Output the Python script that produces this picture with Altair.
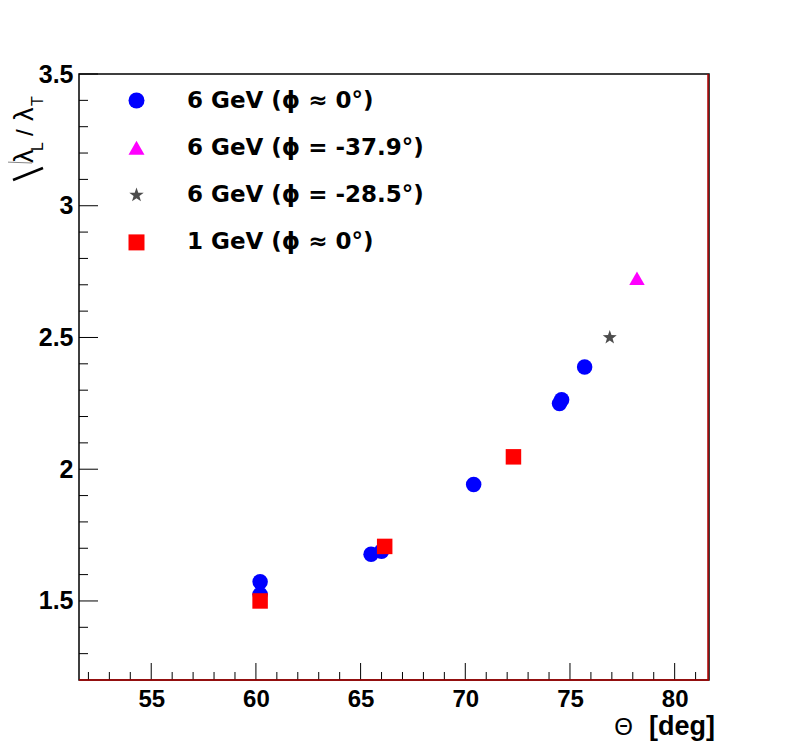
import altair as alt
import pandas as pd

# ---------------- data ----------------
series_labels = ["6 GeV (ϕ ≈ 0°)", "6 GeV (ϕ = -37.9°)", "6 GeV (ϕ = -28.5°)", "1 GeV (ϕ ≈ 0°)"]
series_colors = ["#0000ff", "#ff00ff", "#4d4d4d", "#ff0000"]

theta_6gev_phi0 = [60.2, 60.2, 65.5, 66.0, 70.4, 74.5, 74.6, 75.7]
ratio_6gev_phi0 = [1.573, 1.525, 1.677, 1.689, 1.942, 2.249, 2.264, 2.388]

theta_6gev_phi379 = [78.2]
ratio_6gev_phi379 = [2.725]

theta_6gev_phi285 = [76.9]
ratio_6gev_phi285 = [2.50]

theta_1gev_phi0 = [60.2, 66.15, 72.3]
ratio_1gev_phi0 = [1.50, 1.707, 2.047]

x_major_ticks = [55, 60, 65, 70, 75, 80]
x_minor_ticks = [52, 53, 54, 56, 57, 58, 59, 61, 62, 63, 64, 66, 67, 68, 69,
                 71, 72, 73, 74, 76, 77, 78, 79, 81]
y_major_ticks = [1.5, 2.0, 2.5, 3.0, 3.5]
y_minor_ticks = [1.3, 1.4, 1.6, 1.7, 1.8, 1.9, 2.1, 2.2, 2.3, 2.4,
                 2.6, 2.7, 2.8, 2.9, 3.1, 3.2, 3.3, 3.4]

# ---------------- tables ----------------
rows = []
for lab, xs_, ys_ in [
    (series_labels[0], theta_6gev_phi0, ratio_6gev_phi0),
    (series_labels[1], theta_6gev_phi379, ratio_6gev_phi379),
    (series_labels[2], theta_6gev_phi285, ratio_6gev_phi285),
    (series_labels[3], theta_1gev_phi0, ratio_1gev_phi0),
]:
    for a, b in zip(xs_, ys_):
        rows.append({"theta": a, "ratio": b, "series": lab})
df = pd.DataFrame(rows)

df_xmaj = pd.DataFrame({"theta": x_major_ticks})
df_xmin = pd.DataFrame({"theta": x_minor_ticks})
df_ymaj = pd.DataFrame({"ratio": y_major_ticks})
df_ymin = pd.DataFrame({"ratio": y_minor_ticks})
one = pd.DataFrame({"k": [0]})

W, H = 630, 606
xscale = alt.Scale(domain=[51.55, 81.64], nice=False, zero=False)
yscale = alt.Scale(domain=[1.2, 3.5], nice=False, zero=False)

xaxis = alt.Axis(values=x_major_ticks, title=None, grid=False, domain=False, ticks=False,
                 labelFont="Liberation Sans", labelFontSize=24, labelFontWeight="bold",
                 labelColor="black", labelPadding=7, labelFlush=False, labelAngle=0)
yaxis = alt.Axis(values=y_major_ticks, title=None, grid=False, domain=False, ticks=False,
                 labelFont="Liberation Sans", labelFontSize=25, labelFontWeight="bold",
                 labelColor="black", labelPadding=6, labelFlush=False, format="~g")

star_path = ("M0,-0.95L0.2234,-0.3074L0.9035,-0.2936L0.3614,0.1174L0.5584,0.7686"
             "L0,0.38L-0.5584,0.7686L-0.3614,0.1174L-0.9035,-0.2936L-0.2234,-0.3074Z")
shapes = ["circle", "triangle-up", star_path, "square"]

legend = alt.Legend(title=None, orient="none", legendX=46, legendY=15, padding=0,
                    symbolSize=256, symbolStrokeWidth=0, labelFont="DejaVu Sans",
                    labelFontSize=23, labelFontWeight="bold", labelColor="black",
                    labelOffset=39, rowPadding=23.3, labelLimit=500)

X = lambda: alt.X("theta:Q", scale=xscale, axis=xaxis)
Y = lambda: alt.Y("ratio:Q", scale=yscale, axis=yaxis)

points = alt.Chart(df).mark_point(filled=True, size=240, opacity=1).encode(
    x=X(), y=Y(),
    color=alt.Color("series:N", scale=alt.Scale(domain=series_labels, range=series_colors), legend=legend),
    shape=alt.Shape("series:N", scale=alt.Scale(domain=series_labels, range=shapes), legend=legend),
)

xmaj = alt.Chart(df_xmaj).mark_rule(color="black", strokeWidth=1).encode(
    x=X(), y=alt.value(H), y2=alt.value(H - 17))
xmin = alt.Chart(df_xmin).mark_rule(color="black", strokeWidth=1).encode(
    x=X(), y=alt.value(H), y2=alt.value(H - 8))
ymaj = alt.Chart(df_ymaj).mark_rule(color="black", strokeWidth=1).encode(
    y=Y(), x=alt.value(0), x2=alt.value(19))
ymin = alt.Chart(df_ymin).mark_rule(color="black", strokeWidth=1).encode(
    y=Y(), x=alt.value(0), x2=alt.value(9))

red_bottom = alt.Chart(one).mark_rule(color="#b00000", strokeWidth=1.5).encode(
    x=alt.value(0), x2=alt.value(W), y=alt.value(H))
red_right = alt.Chart(one).mark_rule(color="#b00000", strokeWidth=1.5).encode(
    x=alt.value(W - 1), y=alt.value(0), y2=alt.value(H))


def txt(s, x, y, size, weight="normal", angle=0, align="left", font="Liberation Sans"):
    kw = dict(text=s, align=align, baseline="alphabetic", font=font, fontSize=size,
              fontWeight=weight, color="black")
    if angle:
        kw["angle"] = angle
    return alt.Chart(one).mark_text(**kw).encode(x=alt.value(x), y=alt.value(y))


def seg(x1, y1, x2, y2, color, w):
    return alt.Chart(one).mark_rule(color=color, strokeWidth=w).encode(
        x=alt.value(x1), y=alt.value(y1), x2=alt.value(x2), y2=alt.value(y2))


# y title: sqrt(lambda_L / lambda_T), rotated
ytitle = [
    seg(-75, 16, -75, 88, "#888888", 1),
    seg(-75, 88, -47, 89, "#888888", 1),
    seg(-36, 94, -66, 106, "black", 2.5),
    txt("λ", -46, 89, 27, angle=270),
    txt("L", -36, 77, 16, angle=270),
    txt("/", -46, 62, 24, angle=270),
    txt("λ", -46, 47, 27, angle=270),
    txt("T", -36, 32, 16, angle=270),
]

# x title
xtitle = [
    txt("[deg]", 636, 661, 27, weight="bold", align="right"),
    txt("Θ", 554, 661, 24, align="right"),
]

chart = alt.layer(
    xmin, xmaj, ymin, ymaj, red_bottom, red_right, points, *ytitle, *xtitle
).properties(
    width=W, height=H,
    autosize=alt.AutoSizeParams(type="none"),
    padding={"left": 71, "top": 66, "right": 71, "bottom": 68},
    background="white",
).configure_view(stroke="black", strokeWidth=1.5)

chart.save("out.html", embed_options={"renderer": "svg", "actions": False})
